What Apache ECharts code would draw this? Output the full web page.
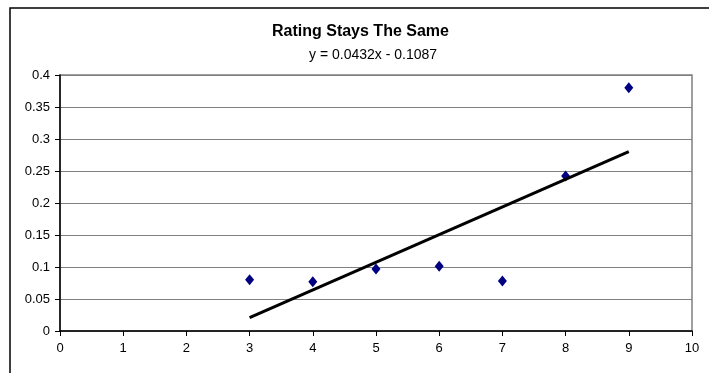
<!DOCTYPE html>
<html>
<head>
<meta charset="utf-8">
<script src="https://cdn.jsdelivr.net/npm/echarts@6/dist/echarts.min.js"></script>
<style>
  html, body { margin: 0; padding: 0; background: #fff; }
  #chart-box { width: 709px; height: 373px; }
</style>
</head>
<body>
<div id="chart-box"></div>
<script>
// data
var ratings = [3, 4, 5, 6, 7, 8, 9];
var shares = [0.08, 0.077, 0.097, 0.101, 0.078, 0.242, 0.38];
// linear trendline as printed on the chart
var slope = 0.0432;
var intercept = -0.1087;
var trendRange = [3, 9];

var trendData = trendRange.map(function (x) {
    return [x, slope * x + intercept];
});

var myChart = echarts.init(document.getElementById('chart-box'));
var option = {
    animation: false,
    backgroundColor: '#fff',
    textStyle: { fontFamily: 'Liberation Sans, Arial, sans-serif' },
    title: [
        {
            text: 'Rating Stays The Same',
            left: 272,
            top: 24,
            padding: 0,
            textStyle: { fontSize: 16, fontWeight: 'bold', color: '#000', fontFamily: 'Liberation Sans' }
        },
        {
            text: 'y = 0.0432x - 0.1087',
            left: 309,
            top: 48,
            padding: 0,
            textStyle: { fontSize: 14, fontWeight: 'normal', color: '#000', fontFamily: 'Liberation Sans' }
        }
    ],
    graphic: [
        // outer chart border (cut off on the right and bottom)
        {
            type: 'rect',
            shape: { x: 10, y: 8, width: 760, height: 420 },
            style: { fill: 'none', stroke: '#000', lineWidth: 1.5 },
            z: -1
        }
    ],
    grid: {
        left: 60,
        top: 75,
        width: 632,
        height: 256,
        containLabel: false,
        outerBoundsMode: 'none',
        show: true,
        borderColor: '#808080',
        borderWidth: 1.5
    },
    xAxis: {
        type: 'value',
        min: 0,
        max: 10,
        interval: 1,
        axisLine: { show: true, onZero: false, lineStyle: { color: '#000', width: 1.5 } },
        axisTick: { show: true, inside: false, length: 5, lineStyle: { color: '#000' } },
        axisLabel: { color: '#000', fontSize: 13, margin: 11, fontFamily: 'Liberation Sans' },
        splitLine: { show: false }
    },
    yAxis: {
        type: 'value',
        min: 0,
        max: 0.4,
        interval: 0.05,
        axisLine: { show: true, onZero: false, lineStyle: { color: '#000', width: 1.5 } },
        axisTick: { show: true, inside: false, length: 5, lineStyle: { color: '#000' } },
        axisLabel: { color: '#000', fontSize: 13, margin: 10, fontFamily: 'Liberation Sans' },
        splitLine: { show: true, lineStyle: { color: '#808080', width: 1 } }
    },
    series: [
        {
            type: 'scatter',
            symbol: 'diamond',
            symbolSize: [9, 11],
            itemStyle: { color: '#000080', opacity: 1 },
            data: ratings.map(function (r, i) { return [r, shares[i]]; }),
            z: 3
        },
        {
            type: 'line',
            symbol: 'none',
            lineStyle: { color: '#000', width: 3 },
            data: trendData,
            z: 4
        }
    ]
};
myChart.setOption(option);
</script>
</body>
</html>
